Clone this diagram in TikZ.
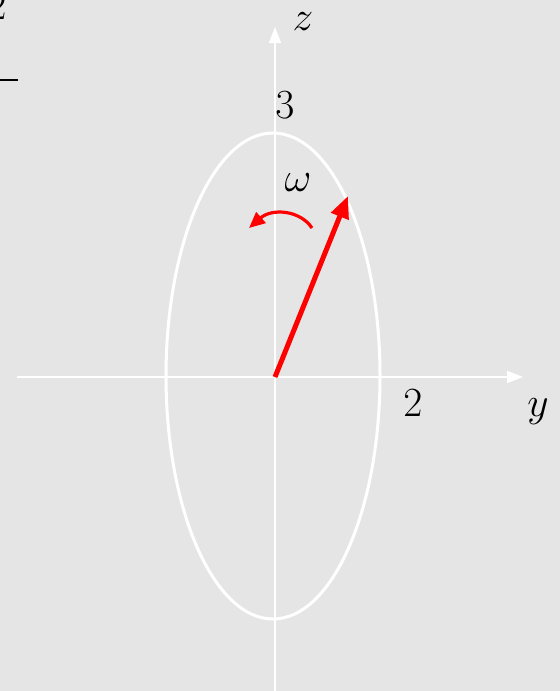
\documentclass[tikz,border=0pt]{standalone}
\usepackage{amsmath,amssymb}
\usepackage{tikz}
\usetikzlibrary{arrows.meta}

\definecolor{fundo}{RGB}{229,229,229}

\begin{document}
\begin{tikzpicture}[x=0.5pt, y=-0.5pt,
    eixo/.style={white, line width=0.8pt, -{Triangle[length=8pt, width=6pt]}},
    rotulo/.style={font=\fontsize{22}{26}\selectfont, inner sep=0pt}]
    % Fundo
    \fill[fundo] (0,0) rectangle (560,691);
    \useasboundingbox (0,0) rectangle (560,691);

    % Fragmento no canto
    \begin{scope}
        \clip (0,0) rectangle (560,691);
        \node[rotulo] (frac) at (-3,6) {$2$};
        \draw[line width=0.9pt] (0,80) -- (18,80);
    \end{scope}

    % Eixos
    \coordinate (O) at (275,377);
    \coordinate (Ye) at (17,377);
    \coordinate (Yd) at (523,377);
    \coordinate (Zb) at (275,691);
    \coordinate (Zt) at (275,27);
    \draw[eixo] (Ye) -- (Yd);
    \draw[eixo] (Zb) -- (Zt);

    % Elipse
    \draw[white, line width=1.5pt] (273,376) ellipse [x radius=107, y radius=243];

    % Rotulos
    \node[rotulo] (z) at (303,22) {$z$};
    \node[rotulo] (tres) at (285,105) {$3$};
    \node[rotulo] (dois) at (413,403) {$2$};
    \node[rotulo] (y) at (538,412) {$y$};
    \node[rotulo] (w) at (298,183) {$\omega$};

    % Vetor
    \coordinate (P) at (348,196);
    \draw[red, line width=2.5pt, -{Triangle[length=11pt, width=9pt]}] (O) -- (P);

    % Rotacao
    \coordinate (R1) at (312,228);
    \coordinate (R2) at (249,228);
    \draw[red, line width=1.6pt, -{Triangle[length=8pt, width=7pt]}] (R1) .. controls (300,210) and (272,208) .. (R2);
\end{tikzpicture}
\end{document}
